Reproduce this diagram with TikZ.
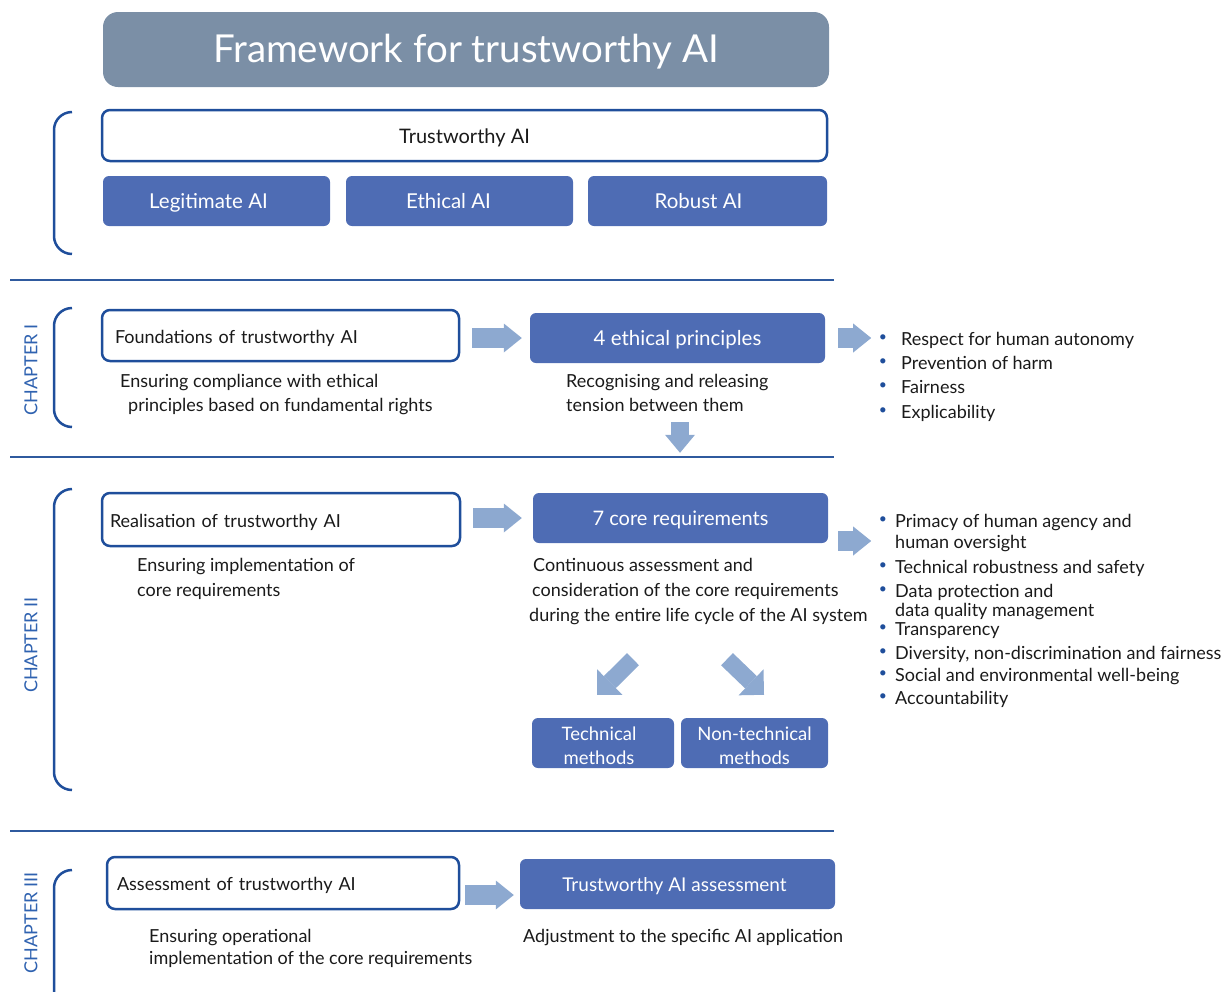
\documentclass[tikz,border=0pt]{standalone}
\usepackage{fontspec}
\setmainfont{Lato}
\usetikzlibrary{arrows.meta}
\definecolor{titlefill}{HTML}{7B8FA6}
\definecolor{dblue}{HTML}{1F4E9B}
\definecolor{mblue}{HTML}{4E6CB4}
\definecolor{ablue}{HTML}{8DA9D0}
\definecolor{cblue}{HTML}{2F62B0}
\definecolor{txt}{HTML}{1A1A1A}
\definecolor{lineblue}{HTML}{2F5A9E}
\begin{document}
\begin{tikzpicture}[x=1pt,y=-1pt,
  titlebox/.style={rectangle, rounded corners=15pt, fill=titlefill, text=white, inner sep=0pt,
     text height=27pt, text depth=2pt, font=\fontsize{38.5}{42}\selectfont},
  filledbox/.style={rectangle, rounded corners=6pt, fill=mblue, text=white, inner sep=0pt,
     align=center, text height=15pt, text depth=0pt, font=\fontsize{20.5}{24}\selectfont},
  twoline/.style={filledbox, text height={}, text depth={}, font=\fontsize{18.5}{24}\selectfont},
  outlinebox/.style={rectangle, rounded corners=8pt, draw=dblue, line width=2.5pt, fill=white,
     text=txt, inner sep=0pt, text height=15pt, text depth=0pt, font=\fontsize{18}{22}\selectfont},
  leftbox/.style={outlinebox, align=left},
  lbl/.style={anchor=west, text=txt, inner sep=0pt, text height=14pt, text depth=0pt,
     font=\fontsize{18}{22}\selectfont},
  bul/.style={anchor=center, text=dblue, inner sep=0pt, font=\fontsize{14}{20}\selectfont},
  chap/.style={rotate=90, text=cblue, inner sep=0pt, font=\fontsize{18}{22}\selectfont},
  brk/.style={draw=dblue, line width=2.5pt, rounded corners=18pt},
  sep/.style={draw=lineblue, line width=1.3pt},
  barrow/.style={draw=ablue, line width=20pt, -{Triangle[length=18pt,width=29pt,line width=0pt]}},
  darrow/.style={draw=ablue, line width=18pt, -{Triangle[length=18pt,width=30pt,line width=0pt]}},
  diagarrow/.style={draw=ablue, line width=17pt, -{Triangle[length=18pt,width=36pt,line width=0pt]}}
]
\useasboundingbox (0,0) rectangle (1231,991);

% title
\node[titlebox, minimum width=726pt, minimum height=75pt] (title) at (466,49.5) {Framework for trustworthy AI};

% top block
\draw[brk] (72,112) -| (54,183) |- (72,254);
\node[outlinebox, minimum width=725pt, minimum height=51pt, font=\fontsize{20}{24}\selectfont] (trust) at (464.5,135.5) {Trustworthy AI};
\node[filledbox, minimum width=227pt, minimum height=50pt] (legit) at (216.5,201) {\hspace*{-16pt}Legitimate AI};
\node[filledbox, minimum width=227pt, minimum height=50pt] (ethic) at (459.5,201) {\hspace*{-22pt}Ethical AI};
\node[filledbox, minimum width=239pt, minimum height=50pt] (robust) at (707.5,201) {\hspace*{-18pt}Robust AI};

\draw[sep] (10,280) -- (834,280);

% chapter I
\node[chap] (ch1) at (31,370) {CHAPTER I};
\draw[brk] (72,308) -| (54,367) |- (72,427);
\node[leftbox, minimum width=357pt, minimum height=51pt, text width=331pt, inner xsep=13pt] (found) at (280.5,335.5) {Foundations of trustworthy AI};
\node[lbl] (found1) at (120,380) {Ensuring compliance with ethical};
\node[lbl] (found2) at (128,404) {principles based on fundamental rights};
\node[filledbox, minimum width=295pt, minimum height=50pt, font=\fontsize{20.5}{24}\selectfont] (eth4) at (677.5,338) {4 ethical principles};
\node[lbl] (rec1) at (566,380) {Recognising and releasing};
\node[lbl] (rec2) at (566,404) {tension between them};
\draw[barrow] ([xshift=12pt]found.east |- eth4.west) -- ([xshift=-8pt]eth4.west);
\coordinate (b1) at ([xshift=46pt]eth4.east);
\draw[barrow] ([xshift=13pt]eth4.east) -- (b1);
\foreach \y/\t [count=\i] in {338/Respect for human autonomy, 362/Prevention of harm, 386/Fairness, 411/Explicability}{
  \node[bul] (pb\i) at (883,\y) {\textbullet};
  \node[lbl] (p\i) at (901,\y) {\t};
}

\draw[sep] (10,457) -- (834,457);

% chapter II
\node[chap] (ch2) at (31,645) {CHAPTER II};
\draw[brk] (72,489) -| (54,640) |- (72,790);
\node[leftbox, minimum width=358pt, minimum height=53pt, text width=342pt, inner xsep=8pt] (real) at (281,519.5) {Realisation of trustworthy AI};
\node[lbl] (real1) at (137,564) {Ensuring implementation of};
\node[lbl] (real2) at (137,589) {core requirements};
\node[filledbox, minimum width=295pt, minimum height=50pt, font=\fontsize{20}{24}\selectfont] (core7) at (680.5,518) {7 core requirements};
\node[lbl] (cont1) at (533,564) {Continuous assessment and};
\node[lbl] (cont2) at (532,589) {consideration of the core requirements};
\node[lbl] (cont3) at (529,614) {during the entire life cycle of the AI system};
\draw[darrow] ([xshift=2.5pt,yshift=-59pt]eth4.south) -- ([xshift=-0.5pt,yshift=40pt]core7.north);
\draw[barrow] ([xshift=12pt]real.east |- core7.west) -- ([xshift=-11pt]core7.west);
\coordinate (b2) at ([xshift=43pt,yshift=-23pt]core7.east);
\draw[barrow] ([xshift=10pt,yshift=-23pt]core7.east) -- (b2);
\foreach \y/\t/\b [count=\i] in {
  520/Primacy of human agency and/1,
  541/human oversight/0,
  566/Technical robustness and safety/1,
  590/Data protection and/1,
  609/data quality management/0,
  628/Transparency/1,
  652/{Diversity, non-discrimination and fairness}/1,
  674/Social and environmental well-being/1,
  697/Accountability/1}{
  \ifnum\b=1 \node[bul] (rb\i) at (883,\y) {\textbullet};\fi
  \node[lbl] (r\i) at (895,\y) {\t};
}
\node[twoline, minimum width=142pt, minimum height=50pt] (tech) at (603,743) {\rule{0pt}{20pt}\hspace*{-8pt}Technical\\\hspace*{-8pt}methods};
\node[twoline, minimum width=147pt, minimum height=50pt] (ntech) at (754.5,743) {\rule{0pt}{20pt}Non-technical\\methods};
\draw[diagarrow] ([xshift=-47.5pt,yshift=-116pt]core7.south) -- ([xshift=-6pt,yshift=23pt]tech.north);
\draw[diagarrow] ([xshift=46.5pt,yshift=-116pt]core7.south) -- ([xshift=9.5pt,yshift=23pt]ntech.north);

\draw[sep] (10,831) -- (834,831);

% chapter III
\node[chap] (ch3) at (31,923) {CHAPTER III};
\draw[brk] (72,870) -| (54,960) |- (72,1050);
\node[leftbox, minimum width=352pt, minimum height=52pt, text width=332pt, inner xsep=10pt] (assess) at (283,883) {Assessment of trustworthy AI};
\node[lbl] (as1) at (149,935) {Ensuring operational};
\node[lbl] (as2) at (149,957) {implementation of the core requirements};
\node[filledbox, minimum width=315pt, minimum height=50pt, font=\fontsize{19}{23}\selectfont] (tassess) at (677.5,884) {\hspace*{-6pt}Trustworthy AI assessment};
\node[lbl] (adj) at (523,935) {Adjustment to the specific AI application};
\draw[barrow] ([xshift=5pt,yshift=-11pt]assess.east |- tassess.west) -- ([xshift=-6pt,yshift=-11pt]tassess.west);
\end{tikzpicture}
\end{document}
